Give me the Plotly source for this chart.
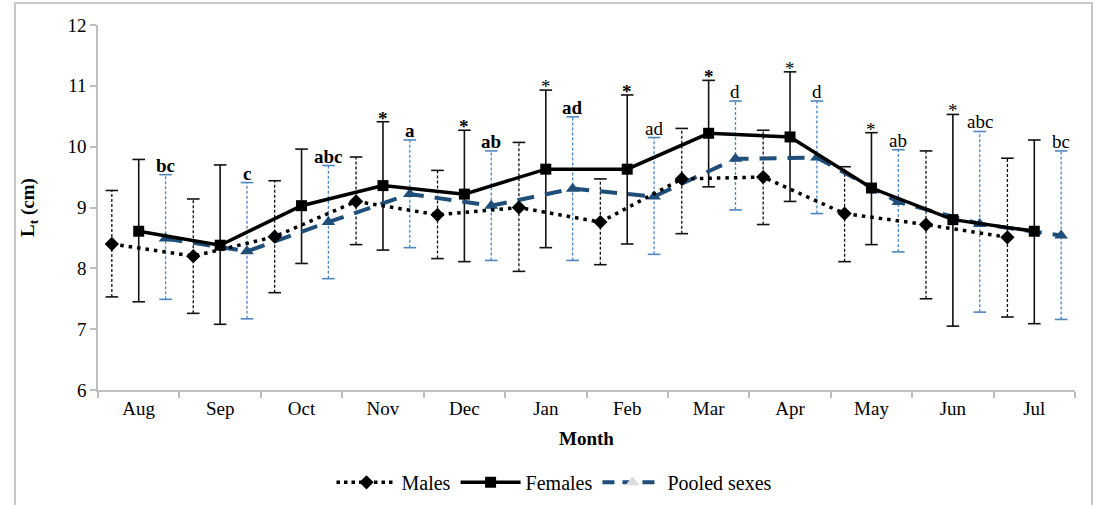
import plotly.graph_objects as go

months = ["Aug", "Sep", "Oct", "Nov", "Dec", "Jan", "Feb", "Mar", "Apr", "May", "Jun", "Jul"]

males_mean = [8.40, 8.20, 8.52, 9.10, 8.88, 9.00, 8.76, 9.47, 9.50, 8.90, 8.72, 8.51]
males_hi = [9.28, 9.14, 9.44, 9.83, 9.61, 10.07, 9.47, 10.30, 10.27, 9.67, 9.93, 9.81]
males_lo = [7.53, 7.26, 7.60, 8.39, 8.16, 7.95, 8.06, 8.57, 8.72, 8.11, 7.50, 7.20]

females_mean = [8.61, 8.38, 9.03, 9.36, 9.22, 9.63, 9.63, 10.22, 10.16, 9.32, 8.80, 8.61]
females_hi = [9.79, 9.70, 9.96, 10.41, 10.27, 10.93, 10.85, 11.09, 11.23, 10.23, 10.53, 10.11]
females_lo = [7.45, 7.08, 8.08, 8.30, 8.11, 8.34, 8.40, 9.34, 9.10, 8.39, 7.05, 7.09]

pooled_mean = [8.49, 8.28, 8.76, 9.22, 9.03, 9.31, 9.18, 9.80, 9.82, 9.09, 8.73, 8.54]
pooled_hi = [9.54, 9.41, 9.69, 10.11, 9.93, 10.49, 10.15, 10.75, 10.75, 9.95, 10.25, 9.93]
pooled_lo = [7.49, 7.17, 7.83, 8.34, 8.13, 8.13, 8.23, 8.96, 8.90, 8.27, 7.28, 7.16]

female_marks = ["", "", "", "*", "*", "*", "*", "*", "*", "*", "*", ""]
female_marks_bold = [False, False, False, True, True, False, True, True, False, False, False, False]
pooled_letters = ["bc", "c", "abc", "a", "ab", "ad", "ad", "d", "d", "ab", "abc", "bc"]
pooled_letters_bold = [True, True, True, True, True, True, False, False, False, False, False, False]

FONT = "Liberation Serif"
idx = list(range(len(months)))
OFF = 0.33
xm = [i - OFF for i in idx]
xf = [i for i in idx]
xp = [i + OFF for i in idx]

fig = go.Figure()


def add_errbars(x, lo, hi, color, width, dash):
    ex, ey = [], []
    for xi, l, h in zip(x, lo, hi):
        ex += [xi, xi, None]
        ey += [l, h, None]
    fig.add_trace(go.Scatter(x=ex, y=ey, mode="lines", showlegend=False, hoverinfo="skip",
                             line=dict(color=color, width=width, dash=dash)))
    fig.add_trace(go.Scatter(x=list(x) + list(x), y=list(lo) + list(hi), mode="markers",
                             showlegend=False, hoverinfo="skip",
                             marker=dict(symbol="line-ew", size=9, color=color,
                                         line=dict(color=color, width=1.6))))


add_errbars(xm, males_lo, males_hi, "#111111", 1.3, "3px,2px")
add_errbars(xf, females_lo, females_hi, "#111111", 1.6, "solid")
add_errbars(xp, pooled_lo, pooled_hi, "#4f86c0", 1.3, "3px,2px")

BLUE = "#1F4E79"
fig.add_trace(go.Scatter(x=xp, y=pooled_mean, mode="lines+markers", showlegend=False,
                         line=dict(color=BLUE, width=4, dash="17px,11px"),
                         marker=dict(symbol="triangle-up", size=12, color=BLUE)))
fig.add_trace(go.Scatter(x=xm, y=males_mean, mode="lines+markers", showlegend=False,
                         line=dict(color="black", width=3.5, dash="3.5px,5px"),
                         marker=dict(symbol="diamond", size=11, color="black")))
fig.add_trace(go.Scatter(x=xf, y=females_mean, mode="lines+markers", showlegend=False,
                         line=dict(color="black", width=3.5),
                         marker=dict(symbol="square", size=11, color="black")))

# legend-only entries
fig.add_trace(go.Scatter(x=[None], y=[None], mode="lines+markers", name="Males",
                         line=dict(color="black", width=3.5, dash="3.5px,4px"),
                         marker=dict(symbol="diamond", size=11, color="black")))
fig.add_trace(go.Scatter(x=[None], y=[None], mode="lines+markers", name="Females",
                         line=dict(color="black", width=3.5),
                         marker=dict(symbol="square", size=11, color="black")))
fig.add_trace(go.Scatter(x=[None], y=[None], mode="lines+markers", name="Pooled sexes",
                         line=dict(color=BLUE, width=4, dash="12px,8px"),
                         marker=dict(symbol="triangle-up", size=12, color="#dcdcdc")))

annotations = []
for xi, h, t, b in zip(xf, females_hi, female_marks, female_marks_bold):
    if t:
        annotations.append(dict(x=xi, y=h, text=("<b>%s</b>" % t) if b else t, showarrow=False,
                                xanchor="center", yanchor="bottom", yshift=-9,
                                font=dict(family=FONT, size=19, color="black")))
for xi, h, t, b in zip(xp, pooled_hi, pooled_letters, pooled_letters_bold):
    annotations.append(dict(x=xi, y=h, text=("<b>%s</b>" % t) if b else t, showarrow=False,
                            xanchor="center", yanchor="bottom", yshift=-3,
                            font=dict(family=FONT, size=19, color="black")))

fig.update_layout(
    width=1098, height=505,
    margin=dict(l=98, r=23, t=25, b=115, autoexpand=False),
    paper_bgcolor="white", plot_bgcolor="white",
    font=dict(family=FONT, size=19, color="black"),
    showlegend=True,
    legend=dict(orientation="h", xref="container", yref="container",
                x=0.505, xanchor="center", y=0.045, yanchor="middle",
                font=dict(family=FONT, size=20, color="black"), itemwidth=60,
                bgcolor="rgba(0,0,0,0)"),
    annotations=annotations,
    shapes=[dict(type="rect", xref="paper", yref="paper", x0=-0.085, x1=1.0174,
                 y0=-0.35, y1=1.060, line=dict(color="#c8c8c8", width=2), layer="below")],
)

fig.update_xaxes(
    range=[-0.5, len(months) - 0.5], automargin=False,
    tickmode="array", tickvals=idx, ticktext=months,
    ticks="", showgrid=False, zeroline=False,
    showline=True, linecolor="#bfbfbf", linewidth=1.5,
    tickfont=dict(family=FONT, size=19, color="black"),
    minor=dict(tickmode="array", tickvals=[i - 0.5 for i in range(len(months) + 1)],
               ticks="outside", ticklen=6, tickcolor="#bfbfbf", tickwidth=1.5, showgrid=False),
    title=dict(text="<b>Month</b>", font=dict(family=FONT, size=19, color="black"), standoff=14),
)
fig.update_yaxes(
    range=[6, 12], dtick=1, tick0=6, automargin=False,
    ticks="outside", ticklen=6, tickcolor="#bfbfbf", tickwidth=1.5,
    showgrid=False, zeroline=False,
    showline=True, linecolor="#bfbfbf", linewidth=1.5,
    tickfont=dict(family=FONT, size=19, color="black"),
    title=dict(text="<b>L<sub>t</sub> (cm)</b>", font=dict(family=FONT, size=19, color="black"),
               standoff=28),
)

fig.write_html("out.html", config={"displayModeBar": False},
               post_script="document.body.style.margin='0px';document.body.style.overflow='hidden';")
